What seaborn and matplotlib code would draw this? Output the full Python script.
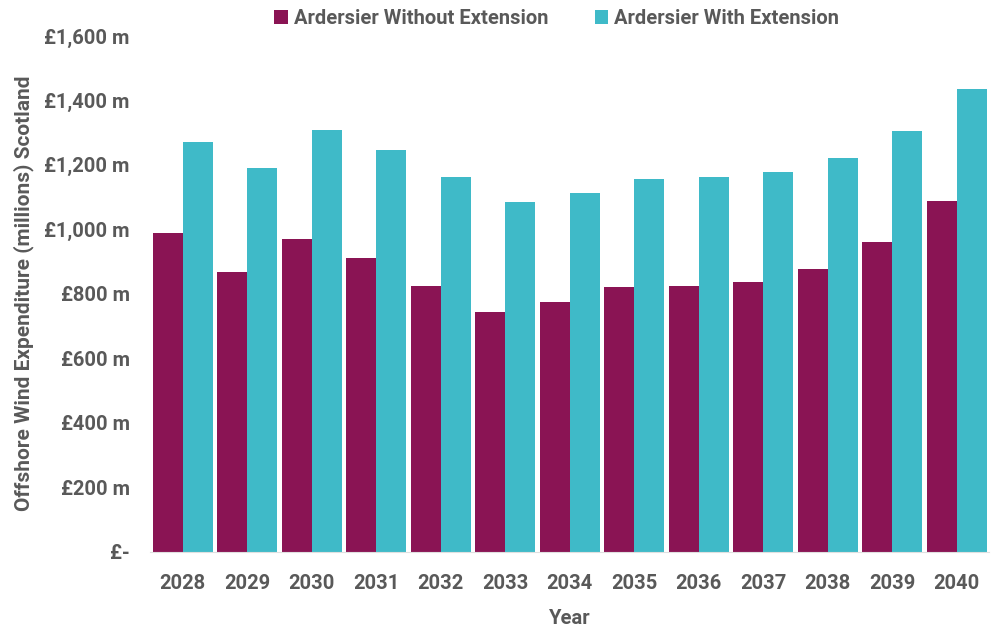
import pandas as pd
import matplotlib.pyplot as plt
import seaborn as sns

# Values (millions GBP)
years = ['2028', '2029', '2030', '2031', '2032', '2033', '2034',
         '2035', '2036', '2037', '2038', '2039', '2040']
without_ext = [988, 868, 971, 910, 825, 744, 774, 820, 825, 837, 878, 962, 1089]
with_ext = [1272, 1191, 1308, 1246, 1161, 1086, 1112, 1155, 1163, 1178, 1220, 1306, 1435]
series = ['Ardersier Without Extension', 'Ardersier With Extension']
y_ticks = [0, 200, 400, 600, 800, 1000, 1200, 1400, 1600]
y_labels = ['£-', '£200 m', '£400 m', '£600 m', '£800 m', '£1,000 m',
            '£1,200 m', '£1,400 m', '£1,600 m']

colors = ['#8A1454', '#3FBAC8']
text_col = '#595959'

df = pd.DataFrame({
    'Year': years * 2,
    'Value': without_ext + with_ext,
    'Series': [series[0]] * len(years) + [series[1]] * len(years),
})

sns.set_style('white')
plt.rcParams['font.family'] = ['Roboto', 'DejaVu Sans']

fig = plt.figure(figsize=(10.03, 6.28), dpi=100)
ax = fig.add_axes([0.150, 0.1218, 0.836, 0.8209])

sns.barplot(data=df, x='Year', y='Value', hue='Series', palette=colors,
            width=0.925, saturation=1, linewidth=0, ax=ax)

ax.set_ylim(0, 1600)
ax.set_xlim(-0.5, len(years) - 0.5)
ax.set_yticks(y_ticks)
ax.set_yticklabels(y_labels)
ax.tick_params(axis='both', length=0, labelsize=14.5, labelcolor=text_col)
ax.tick_params(axis='y', pad=15)
ax.tick_params(axis='x', pad=16)
for lab in ax.get_xticklabels() + ax.get_yticklabels():
    lab.set_fontweight('bold')

ax.set_xlabel('Year', fontsize=14.5, fontweight='bold', color=text_col, labelpad=12)
ax.set_ylabel('Offshore Wind Expenditure (millions) Scotland', fontsize=15,
              fontweight='bold', color=text_col, labelpad=7)

for side in ['top', 'right', 'left']:
    ax.spines[side].set_visible(False)
ax.spines['bottom'].set_color('#e0e0e0')
ax.spines['bottom'].set_linewidth(0.8)

handles, labels = ax.get_legend_handles_labels()
ax.get_legend().remove()
fig.legend(handles, labels, loc='center', bbox_to_anchor=(0.555, 0.971), ncol=2,
           frameon=False, handlelength=0.67, handleheight=0.67, handletextpad=0.3,
           columnspacing=2.3, prop={'weight': 'bold', 'size': 14.5})
for t in fig.legends[0].get_texts():
    t.set_color(text_col)

fig.savefig('out.png', dpi=100)
